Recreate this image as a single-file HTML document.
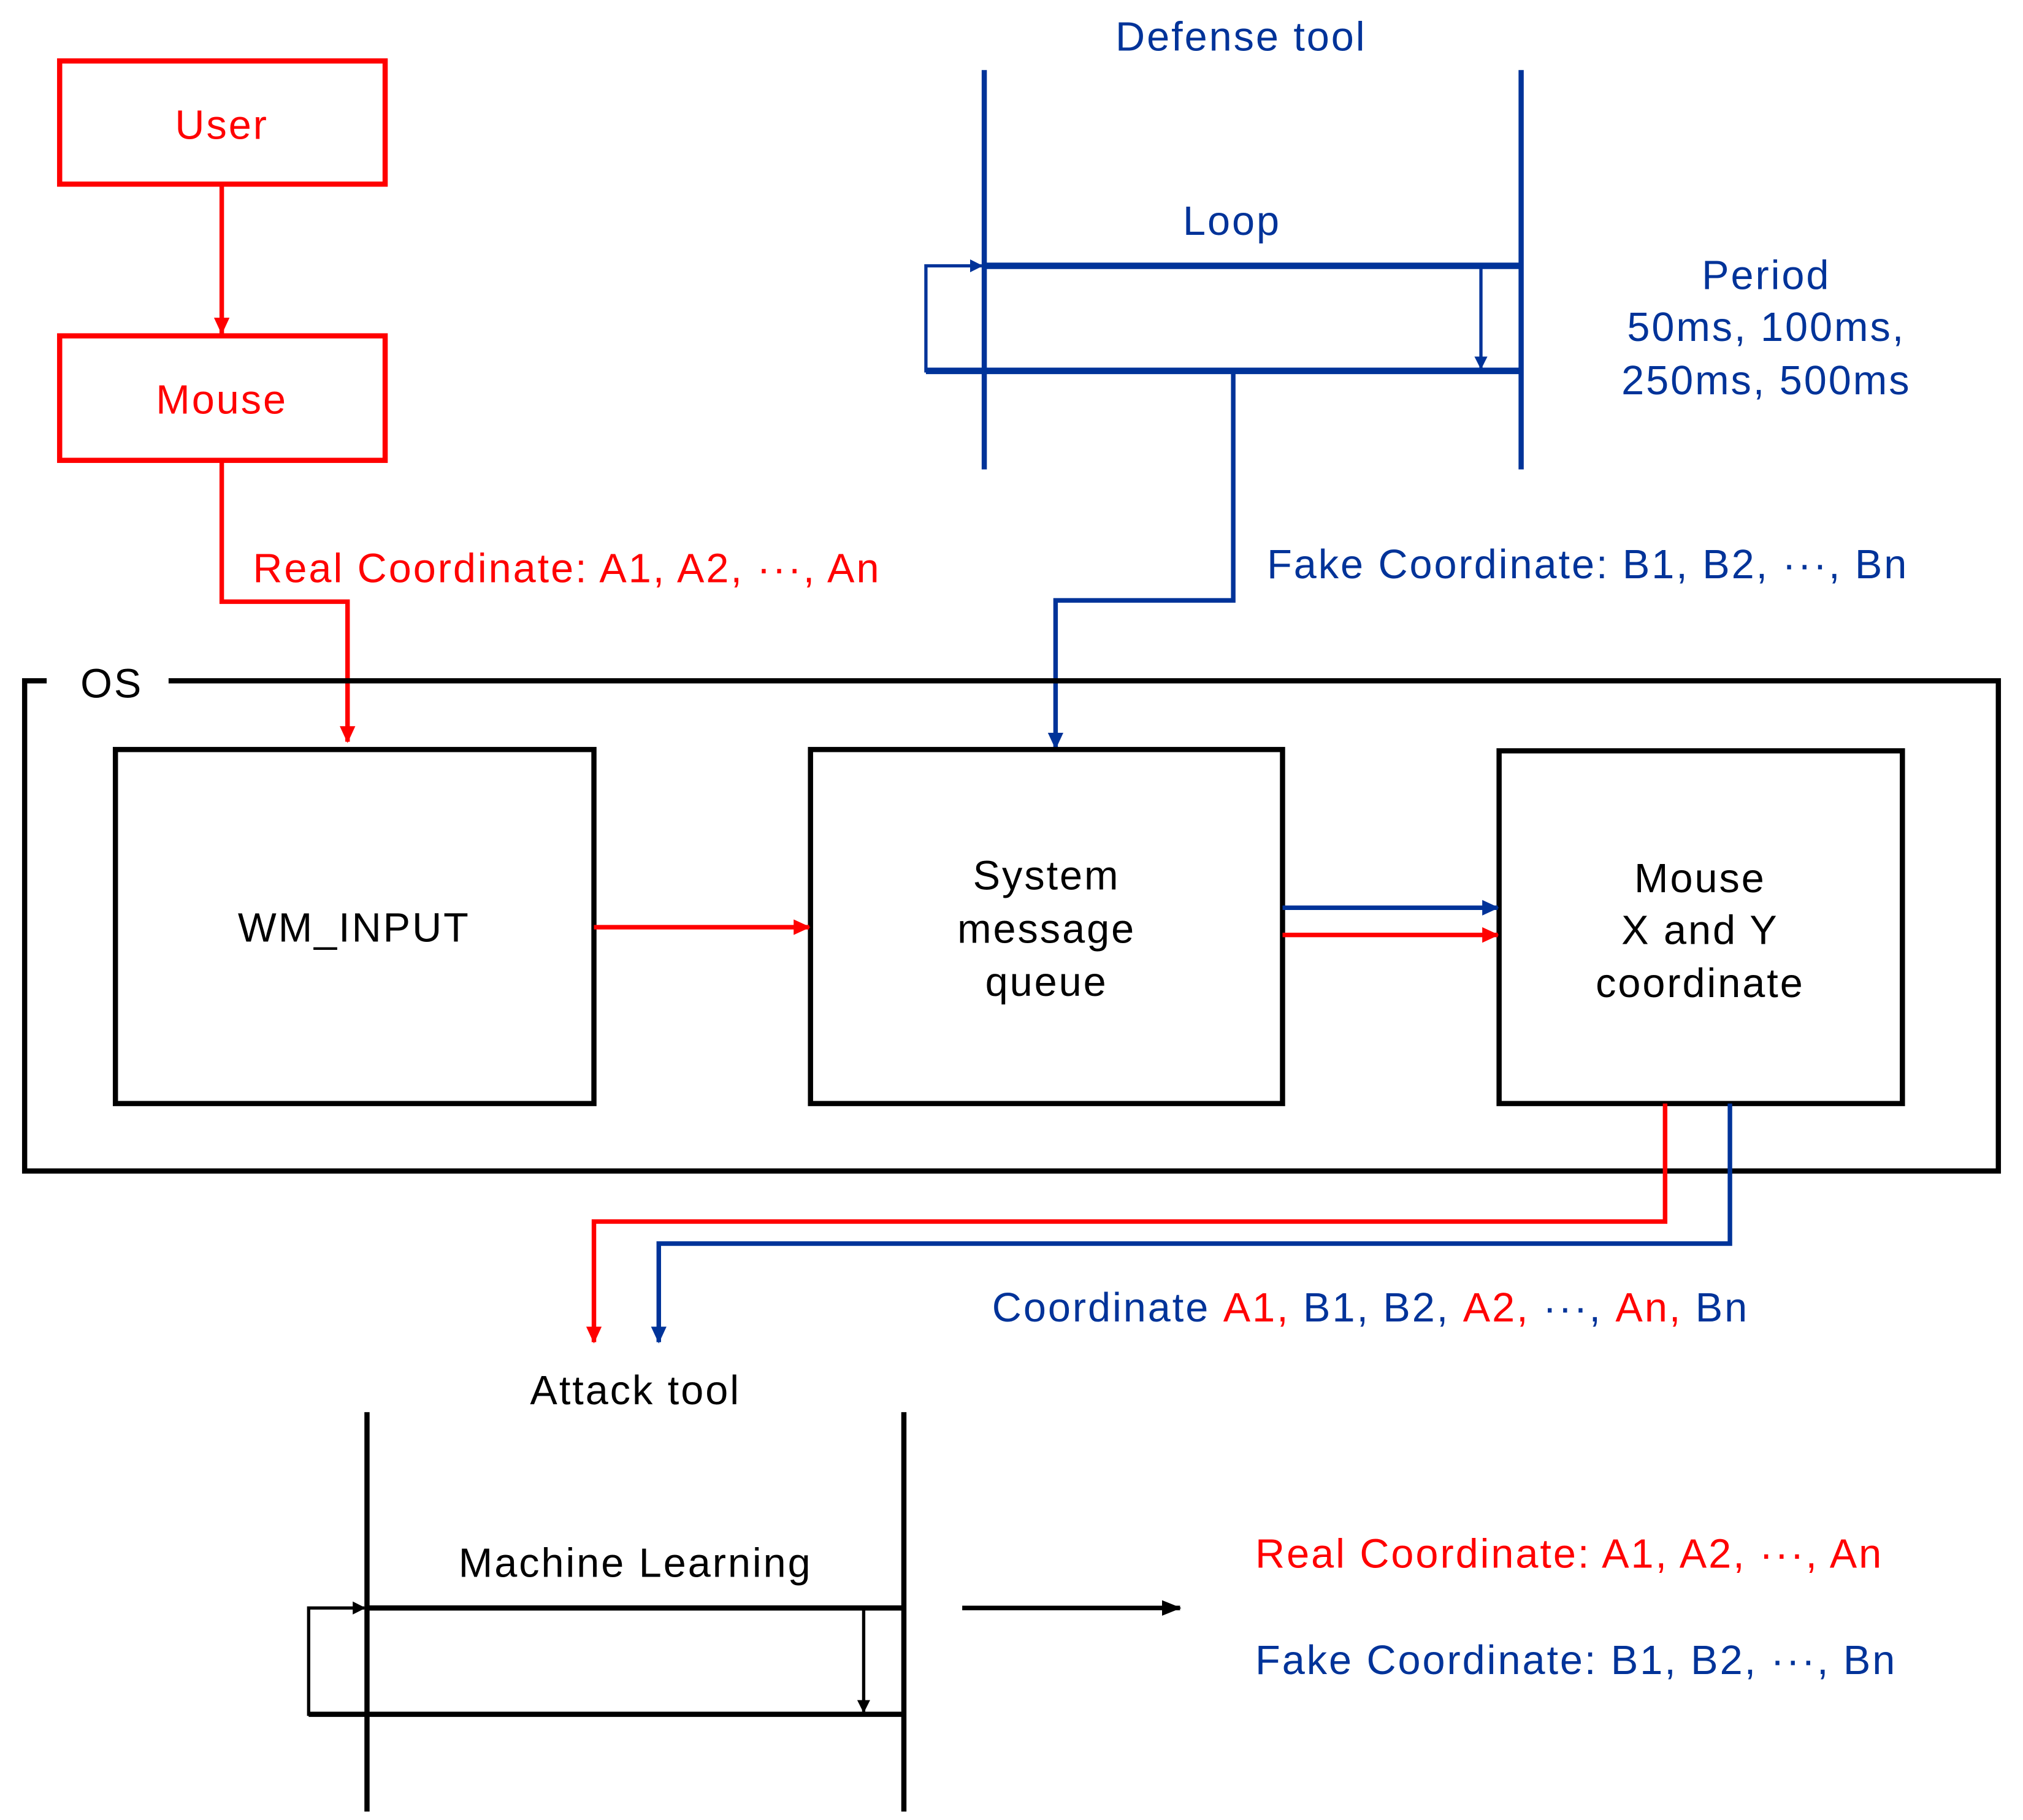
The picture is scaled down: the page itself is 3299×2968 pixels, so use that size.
<!DOCTYPE html>
<html><head><meta charset="utf-8"><style>
html,body{margin:0;padding:0;background:#fff;}
svg{display:block;}
text{font-family:"Liberation Sans","NanumGothic",sans-serif;font-size:31.5px;letter-spacing:1.4px;}
</style></head><body>
<svg width="3299" height="2968" viewBox="0 0 1560 1403.5" preserveAspectRatio="none" xmlns="http://www.w3.org/2000/svg">
<defs>
<marker id="ab" markerWidth="10" markerHeight="10" refX="9" refY="5" orient="auto" markerUnits="userSpaceOnUse"><path d="M0,0 L10,5 L0,10 Z" fill="#003399"/></marker>
<marker id="ak" markerWidth="10" markerHeight="10" refX="9" refY="5" orient="auto" markerUnits="userSpaceOnUse"><path d="M0,0 L10,5 L0,10 Z" fill="#000"/></marker>
<marker id="arL" markerWidth="13" markerHeight="12" refX="12" refY="6" orient="auto" markerUnits="userSpaceOnUse"><path d="M0,0 L13,6 L0,12 Z" fill="#ff0000"/></marker>
<marker id="abL" markerWidth="13" markerHeight="12" refX="12" refY="6" orient="auto" markerUnits="userSpaceOnUse"><path d="M0,0 L13,6 L0,12 Z" fill="#003399"/></marker>
<marker id="akL" markerWidth="15" markerHeight="12" refX="14" refY="6" orient="auto" markerUnits="userSpaceOnUse"><path d="M0,0 L15,6 L0,12 Z" fill="#000"/></marker>
</defs>

<rect x="46" y="47" width="251" height="95" fill="none" stroke="#ff0000" stroke-width="4"/>
<text x="171" y="107" text-anchor="middle" fill="#ff0000">User</text>
<rect x="46" y="259" width="251" height="96" fill="none" stroke="#ff0000" stroke-width="4"/>
<text x="171" y="319" text-anchor="middle" fill="#ff0000">Mouse</text>
<line x1="171" y1="142" x2="171" y2="257" stroke="#ff0000" stroke-width="3.5" marker-end="url(#arL)"/>
<polyline points="171,355 171,464 268,464 268,572" fill="none" stroke="#ff0000" stroke-width="3.5" marker-end="url(#arL)"/>
<text x="195" y="449" fill="#ff0000">Real Coordinate: A1, A2, ···, An</text>

<text x="957" y="39" text-anchor="middle" fill="#003399">Defense tool</text>
<line x1="759" y1="54" x2="759" y2="362" stroke="#003399" stroke-width="4"/>
<line x1="1173" y1="54" x2="1173" y2="362" stroke="#003399" stroke-width="4"/>
<text x="950" y="181" text-anchor="middle" fill="#003399">Loop</text>
<line x1="759" y1="205" x2="1173" y2="205" stroke="#003399" stroke-width="5"/>
<line x1="714" y1="286" x2="1173" y2="286" stroke="#003399" stroke-width="5"/>
<polyline points="759,286 714,286 714,205 757,205" fill="none" stroke="#003399" stroke-width="2.5" marker-end="url(#ab)"/>
<line x1="1142" y1="205" x2="1142" y2="284" stroke="#003399" stroke-width="2.5" marker-end="url(#ab)"/>
<text x="1362" y="223" text-anchor="middle" fill="#003399">Period</text>
<text x="1362" y="263" text-anchor="middle" fill="#003399">50ms, 100ms,</text>
<text x="1362" y="304" text-anchor="middle" fill="#003399">250ms, 500ms</text>
<polyline points="951,286 951,463 814,463 814,577" fill="none" stroke="#003399" stroke-width="3.5" marker-end="url(#abL)"/>
<text x="977" y="446" fill="#003399">Fake Coordinate: B1, B2, ···, Bn</text>

<polyline points="36,525 19,525 19,903 1541,903 1541,525 130,525" fill="none" stroke="#000" stroke-width="4"/>
<text x="62" y="538" fill="#000">OS</text>
<rect x="89" y="578" width="369" height="273" fill="none" stroke="#000" stroke-width="4"/>
<text x="273" y="726" text-anchor="middle">WM_INPUT</text>
<rect x="625" y="578" width="364" height="273" fill="none" stroke="#000" stroke-width="4"/>
<text x="807" y="686" text-anchor="middle">System</text>
<text x="807" y="727" text-anchor="middle">message</text>
<text x="807" y="768" text-anchor="middle">queue</text>
<rect x="1156" y="579" width="311" height="272" fill="none" stroke="#000" stroke-width="4"/>
<text x="1311" y="688" text-anchor="middle">Mouse</text>
<text x="1311" y="728" text-anchor="middle">X and Y</text>
<text x="1311" y="769" text-anchor="middle">coordinate</text>
<line x1="458" y1="715" x2="624" y2="715" stroke="#ff0000" stroke-width="3.5" marker-end="url(#arL)"/>
<line x1="989" y1="700" x2="1155" y2="700" stroke="#003399" stroke-width="3.5" marker-end="url(#abL)"/>
<line x1="989" y1="721" x2="1155" y2="721" stroke="#ff0000" stroke-width="3.5" marker-end="url(#arL)"/>

<polyline points="1284,851 1284,942 458,942 458,1035" fill="none" stroke="#ff0000" stroke-width="3.5" marker-end="url(#arL)"/>
<polyline points="1334,851 1334,959 508,959 508,1035" fill="none" stroke="#003399" stroke-width="3.5" marker-end="url(#abL)"/>
<text x="765" y="1019" fill="#003399">Coordinate <tspan fill="#ff0000">A1,</tspan> B1, B2, <tspan fill="#ff0000">A2,</tspan> ···, <tspan fill="#ff0000">An,</tspan> Bn</text>

<text x="490" y="1083" text-anchor="middle">Attack tool</text>
<line x1="283" y1="1089" x2="283" y2="1397" stroke="#000" stroke-width="4"/>
<line x1="697" y1="1089" x2="697" y2="1397" stroke="#000" stroke-width="4"/>
<text x="490" y="1216" text-anchor="middle">Machine Learning</text>
<line x1="283" y1="1240" x2="697" y2="1240" stroke="#000" stroke-width="4"/>
<line x1="238" y1="1322" x2="697" y2="1322" stroke="#000" stroke-width="4"/>
<polyline points="283,1322 238,1322 238,1240 281,1240" fill="none" stroke="#000" stroke-width="2.5" marker-end="url(#ak)"/>
<line x1="666" y1="1240" x2="666" y2="1320" stroke="#000" stroke-width="2.5" marker-end="url(#ak)"/>
<line x1="742" y1="1240" x2="910" y2="1240" stroke="#000" stroke-width="3.5" marker-end="url(#akL)"/>
<text x="968" y="1209" fill="#ff0000">Real Coordinate: A1, A2, ···, An</text>
<text x="968" y="1291" fill="#003399">Fake Coordinate: B1, B2, ···, Bn</text>
</svg>
</body></html>
